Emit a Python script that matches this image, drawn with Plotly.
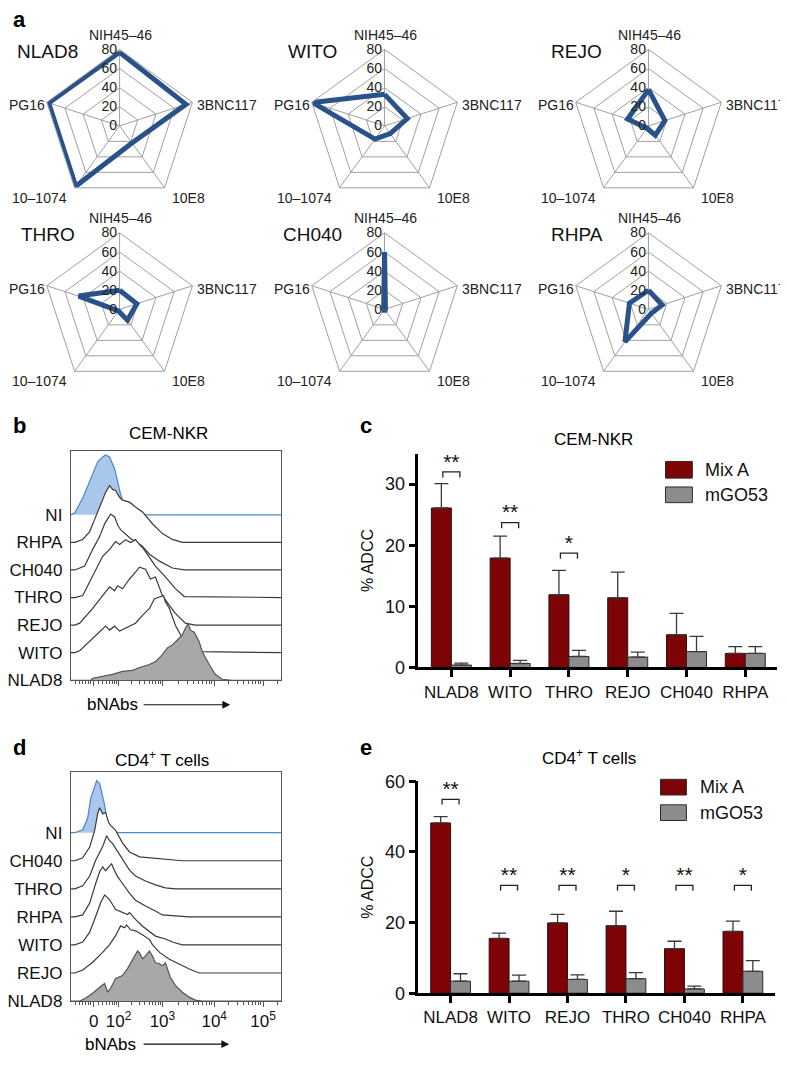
import math
import plotly.graph_objects as go

# The page body adds an 8px margin, so the figure is sized/offset to compensate.
OFF = 8
FW, FH = 780, 1057
FONT = "Liberation Sans, Arial, sans-serif"


def SX(X):
    return (X - OFF) / FW


def SY(Y):
    return 1 - (Y - OFF) / FH


# ---------------- Panel a: radar data ----------------
radar_axes = ["NIH45–46", "3BNC117", "10E8", "10–1074", "PG16"]
radar_ticks = [0, 20, 40, 60, 80]
radar_samples = ["NLAD8", "WITO", "REJO", "THRO", "CH040", "RHPA"]
radar_nlad8 = [77, 73, 22, 78, 78]
radar_wito = [33, 25, 10, 17, 79]
radar_rejo = [38, 18, 12, 3, 23]
radar_thro = [20, 19, 14, 2, 45]
radar_ch040 = [60, 1, 1, 1, 1]
radar_rhpa = [20, 15, 5, 42, 21]

# ---------------- Panel b: CEM-NKR histograms (channel, height) ----------------
b_names = ["NLAD8", "WITO", "REJO", "THRO", "CH040", "RHPA", "NI"]  # bottom to top
b_ni_x = [0, 4, 12, 20, 27, 32, 35, 39, 44, 47, 50, 54, 59, 64, 211]
b_ni_h = [0, 2, 17, 37, 54, 59, 61, 59, 47, 34, 21, 9, 2, 0, 0]
b_rhpa_x = [0, 4, 12, 19, 25, 30, 35, 39, 42, 45, 49, 52, 59, 65, 72, 82, 92, 102, 112, 211]
b_rhpa_h = [0, 0, 3, 11, 26, 39, 51, 58, 54, 53, 46, 43, 41, 36, 31, 19, 9, 3, 0, 0]
b_ch040_x = [0, 4, 14, 22, 29, 34, 37, 40, 44, 47, 50, 55, 60, 65, 72, 79, 89, 102, 114, 211]
b_ch040_h = [0, 0, 4, 21, 34, 47, 52, 57, 54, 46, 41, 36, 32, 29, 24, 16, 9, 2, 0, 0]
b_thro_x = [0, 4, 12, 22, 32, 39, 45, 49, 55, 60, 65, 69, 72, 79, 85, 95, 105, 114, 211]
b_thro_h = [0, 0, 2, 22, 42, 49, 57, 54, 59, 56, 59, 54, 51, 41, 32, 21, 9, 1, 0]
b_rejo_x = [0, 4, 9, 22, 32, 39, 44, 47, 52, 59, 65, 69, 75, 80, 85, 92, 99, 105, 115, 125, 211]
b_rejo_h = [0, 0, 2, 17, 30, 39, 35, 40, 37, 47, 54, 59, 57, 47, 49, 30, 20, 12, 2, 0, 0]
b_wito_x = [0, 4, 9, 19, 29, 35, 39, 44, 49, 55, 65, 72, 79, 84, 89, 93, 95, 99, 105, 112, 119, 129, 211]
b_wito_h = [0, 0, 2, 12, 22, 27, 23, 27, 22, 25, 30, 38, 45, 55, 57, 58, 52, 45, 28, 15, 5, 1, 0]
b_nlad8_x = [0, 20, 22, 32, 42, 52, 62, 69, 79, 85, 92, 97, 102, 109, 112, 115, 118, 120, 124, 129, 132, 139, 145, 152, 162, 211]
b_nlad8_h = [0, 0, 2, 4, 6, 9, 10, 13, 16, 19, 26, 33, 36, 43, 46, 53, 58, 51, 49, 39, 29, 16, 6, 1, 0, 0]

# ---------------- Panel d: CD4+ T cell histograms ----------------
d_names = ["NLAD8", "REJO", "WITO", "RHPA", "THRO", "CH040", "NI"]  # bottom to top
d_ni_x = [0, 4, 12, 17, 20, 24, 26, 29, 31, 34, 36, 39, 42, 47, 211]
d_ni_h = [0, 0, 3, 15, 35, 48, 53, 50, 42, 28, 15, 5, 1, 0, 0]
d_ch040_x = [0, 4, 12, 19, 24, 27, 29, 32, 35, 38, 40, 45, 52, 59, 69, 79, 92, 105, 112, 211]
d_ch040_h = [0, 0, 3, 14, 31, 48, 54, 48, 49, 39, 36, 31, 18, 9, 4, 3, 2, 1, 0, 0]
d_thro_x = [0, 4, 12, 19, 25, 32, 36, 39, 42, 47, 52, 59, 65, 75, 85, 95, 105, 211]
d_thro_h = [0, 0, 3, 13, 29, 43, 54, 49, 46, 38, 29, 19, 13, 8, 4, 1, 0, 0]
d_rhpa_x = [0, 4, 12, 19, 25, 29, 32, 35, 39, 41, 44, 47, 52, 59, 65, 75, 85, 92, 105, 119, 211]
d_rhpa_h = [0, 0, 2, 14, 34, 46, 51, 47, 52, 54, 47, 41, 34, 24, 17, 11, 6, 2, 1, 0, 0]
d_wito_x = [0, 4, 12, 19, 25, 30, 34, 39, 45, 52, 57, 59, 65, 72, 79, 85, 95, 102, 112, 211]
d_wito_h = [0, 0, 3, 13, 29, 43, 51, 46, 36, 33, 31, 33, 26, 19, 14, 9, 6, 3, 0, 0]
d_rejo_x = [0, 4, 12, 22, 32, 39, 45, 50, 54, 56, 60, 65, 72, 79, 82, 89, 99, 109, 119, 129, 211]
d_rejo_h = [0, 0, 3, 11, 21, 29, 38, 48, 46, 49, 44, 43, 39, 34, 29, 21, 14, 9, 4, 0, 0]
d_nlad8_x = [0, 9, 15, 22, 29, 34, 37, 40, 45, 52, 57, 60, 64, 67, 69, 72, 75, 79, 82, 85, 89, 92, 95, 97, 100, 105, 112, 119, 125, 132, 211]
d_nlad8_h = [0, 0, 3, 8, 14, 18, 9, 13, 23, 26, 33, 38, 46, 51, 49, 43, 46, 51, 46, 39, 38, 36, 39, 33, 24, 16, 9, 4, 1, 0, 0]

flow_major_vals = [23, 48, 92, 144, 193]
flow_major_text = ["0", "10<sup>2</sup>", "10<sup>3</sup>", "10<sup>4</sup>", "10<sup>5</sup>"]
flow_low_minor = [5, 9, 12, 15, 18, 20, 28, 32, 36, 39, 42, 44, 46]

# ---------------- Panels c / e: ADCC bars ----------------
series_names = ["Mix A", "mGO53"]
c_cats = ["NLAD8", "WITO", "THRO", "REJO", "CH040", "RHPA"]
c_mixA = [26.1, 17.9, 11.9, 11.4, 5.35, 2.3]
c_mixA_err = [4.0, 3.6, 4.0, 4.2, 3.5, 1.1]
c_mgo53 = [0.4, 0.65, 1.8, 1.7, 2.6, 2.3]
c_mgo53_err = [0.3, 0.5, 1.0, 0.8, 2.5, 1.1]
c_sig = ["**", "**", "*", "", "", ""]
c_sig_y = [32.0, 23.7, 18.7, None, None, None]

e_cats = ["NLAD8", "WITO", "REJO", "THRO", "CH040", "RHPA"]
e_mixA = [48.2, 15.5, 19.9, 19.1, 12.6, 17.5]
e_mixA_err = [1.8, 1.5, 2.4, 4.1, 2.1, 2.9]
e_mgo53 = [3.4, 3.4, 3.9, 4.1, 1.2, 6.2]
e_mgo53_err = [2.1, 1.7, 1.3, 1.7, 0.8, 3.0]
e_sig = ["**", "**", "**", "*", "**", "*"]
e_sig_y = [54.9, 30.5, 30.5, 30.5, 30.5, 30.5]

# ---------------- styles ----------------
RADAR_LINE = "#2a528a"
GRID = "#a0a0a0"
MAROON = "#7d0306"
GRAYBAR = "#8c8c8c"
HIST_LINE = "#3a3a3a"
NI_LINE = "#4b87c8"
NI_FILL = "#a9c7ea"

fig = go.Figure()


def txt(x, y, s, size=17, bold=False, xanchor="center", color="#000"):
    fig.add_annotation(x=SX(x), y=SY(y), xref="paper", yref="paper",
                       text=(f"<b>{s}</b>" if bold else s),
                       showarrow=False, xanchor=xanchor, yanchor="middle",
                       font=dict(size=size, color=color, family=FONT))


# ---------- radar charts ----------
radar_sets = [radar_nlad8, radar_wito, radar_rejo, radar_thro, radar_ch040, radar_rhpa]
radar_centers = [(117, 122), (383, 122), (648, 122), (117, 309), (383, 309), (648, 309)]
RD = 78  # half-size of polar domain (px)
# label placement around each pentagon: (dx, dy, anchor)
radar_label_pos = [(1, -97, "center"), (76, -25, "left"), (51, 69, "left"),
                   (-51, 69, "right"), (-73, -25, "right")]
for k, vals in enumerate(radar_sets):
    pname = "polar" if k == 0 else f"polar{k+1}"
    fig.add_trace(go.Scatterpolar(
        r=vals + [vals[0]], theta=radar_axes + [radar_axes[0]], mode="lines",
        line=dict(color=RADAR_LINE, width=5), subplot=pname, showlegend=False))
    cx, cy = radar_centers[k]
    cyd = cy - 4
    fig.update_layout(**{pname: dict(
        domain=dict(x=[SX(cx - RD), SX(cx + RD)], y=[SY(cyd + RD), SY(cyd - RD)]),
        gridshape="linear", bgcolor="white",
        angularaxis=dict(rotation=90, direction="clockwise", categoryorder="array",
                         categoryarray=radar_axes, showline=True, linecolor=GRID, linewidth=1,
                         gridcolor=GRID, gridwidth=1, ticks="", showticklabels=False),
        radialaxis=dict(range=[0, 80], tickvals=radar_ticks, angle=90, tickangle=90,
                        side="counterclockwise", showline=False, gridcolor=GRID, gridwidth=1,
                        ticks="", tickfont=dict(size=14, color="#222", family=FONT)),
    )})
    for name, (dx, dy, anc) in zip(radar_axes, radar_label_pos):
        txt(cx + dx, cy + dy, name, size=14, xanchor=anc, color="#222")
    txt(cx - 72, cy - 80, radar_samples[k], size=19, color="#111")


# ---------- histograms ----------
def add_hist(names, xs_list, hs_list, xa, ya, spacing):
    offsets = [i * spacing for i in range(len(names))]
    for i in reversed(range(len(names))):
        name = names[i]
        xs, hs = xs_list[i], hs_list[i]
        ys = [offsets[i] + h for h in hs]
        if name == "NI":
            lc, fc = NI_LINE, NI_FILL
        elif i == 0:
            lc, fc = "#555555", "#a8a8a8"
        else:
            lc, fc = HIST_LINE, "white"
        fig.add_trace(go.Scatter(x=xs, y=ys, mode="lines", fill="toself", fillcolor=fc,
                                 line=dict(color=lc, width=1.2), xaxis=xa, yaxis=ya,
                                 showlegend=False, hoverinfo="skip"))
    return offsets


b_xs = [b_nlad8_x, b_wito_x, b_rejo_x, b_thro_x, b_ch040_x, b_rhpa_x, b_ni_x]
b_hs = [b_nlad8_h, b_wito_h, b_rejo_h, b_thro_h, b_ch040_h, b_rhpa_h, b_ni_h]
b_off = add_hist(b_names, b_xs, b_hs, "x", "y", 28.1)

d_xs = [d_nlad8_x, d_rejo_x, d_wito_x, d_rhpa_x, d_thro_x, d_ch040_x, d_ni_x]
d_hs = [d_nlad8_h, d_rejo_h, d_wito_h, d_rhpa_h, d_thro_h, d_ch040_h, d_ni_h]
d_off = add_hist(d_names, d_xs, d_hs, "x3", "y3", 28.6)

flow_minor = list(flow_low_minor)
for a, b in zip(flow_major_vals[1:-1], flow_major_vals[2:]):
    for m in range(2, 10):
        flow_minor.append(a + math.log10(m) * (b - a))
for m in range(2, 4):
    flow_minor.append(193 + math.log10(m) * 49)


def flow_xaxis(dom, anchor, labels):
    return dict(domain=dom, range=[0, 211], anchor=anchor, showline=True, mirror=True,
                linecolor="#555", linewidth=1, ticks="outside", ticklen=5, tickcolor="#555",
                tickvals=flow_major_vals, ticktext=flow_major_text, showticklabels=labels,
                tickfont=dict(size=17, color="#111", family=FONT),
                minor=dict(tickmode="array", tickvals=flow_minor, ticks="outside", ticklen=3,
                           tickcolor="#555"),
                showgrid=False, zeroline=False, fixedrange=True)


def flow_yaxis(dom, anchor, offs, names, top):
    return dict(domain=dom, range=[0, top], anchor=anchor, showline=True, mirror=True,
                linecolor="#555", linewidth=1, ticks="", tickvals=offs, ticktext=names,
                tickfont=dict(size=17, color="#111", family=FONT), ticklabelstandoff=4,
                showgrid=False, zeroline=False)


fig.update_layout(
    xaxis=flow_xaxis([SX(68), SX(279)], "y", False),
    yaxis=flow_yaxis([SY(683), SY(449)], "x", b_off, b_names, 234),
    xaxis3=flow_xaxis([SX(68), SX(279)], "y3", True),
    yaxis3=flow_yaxis([SY(1010), SY(777)], "x3", d_off, d_names, 233),
)


# ---------- bar charts ----------
def add_bars(cats, mix, mix_err, mgo, mgo_err, sig, sig_y, xa, ya, tick_len, star_gap):
    idx = list(range(len(cats)))
    fig.add_trace(go.Bar(x=idx, y=mix, name=series_names[0], xaxis=xa, yaxis=ya, showlegend=False,
                         marker=dict(color=MAROON, line=dict(color="#2b1010", width=1)),
                         error_y=dict(type="data", array=mix_err, arrayminus=[0] * len(mix),
                                      symmetric=False, color="#3a3a3a", thickness=1.3, width=7)))
    fig.add_trace(go.Bar(x=idx, y=mgo, name=series_names[1], xaxis=xa, yaxis=ya, showlegend=False,
                         marker=dict(color=GRAYBAR, line=dict(color="#2b2b2b", width=1)),
                         error_y=dict(type="data", array=mgo_err, arrayminus=[0] * len(mgo),
                                      symmetric=False, color="#3a3a3a", thickness=1.3, width=7)))
    half = 0.145
    for i, (s, yb) in enumerate(zip(sig, sig_y)):
        if not s:
            continue
        fig.add_trace(go.Scatter(x=[i - half, i - half, i + half, i + half],
                                 y=[yb - tick_len, yb, yb, yb - tick_len], mode="lines",
                                 line=dict(color="#222", width=1.3), xaxis=xa, yaxis=ya,
                                 showlegend=False, hoverinfo="skip"))
        fig.add_trace(go.Scatter(x=[i], y=[yb + star_gap], mode="text", text=[s],
                                 textfont=dict(size=21, color="#111", family=FONT),
                                 textposition="middle center", xaxis=xa, yaxis=ya,
                                 showlegend=False, hoverinfo="skip"))


add_bars(c_cats, c_mixA, c_mixA_err, c_mgo53, c_mgo53_err, c_sig, c_sig_y, "x2", "y2", 0.9, 1.4)
add_bars(e_cats, e_mixA, e_mixA_err, e_mgo53, e_mgo53_err, e_sig, e_sig_y, "x4", "y4", 1.5, 2.4)


def bar_xaxis(dom, anchor, cats, rng):
    return dict(domain=dom, range=rng, anchor=anchor, showline=True, linecolor="black",
                linewidth=2.5, ticks="outside", ticklen=7, tickwidth=2.5, tickcolor="black",
                tickvals=list(range(len(cats))), ticktext=cats,
                tickfont=dict(size=17, color="#111", family=FONT),
                showgrid=False, zeroline=False)


def bar_yaxis(dom, anchor, rng, tv):
    return dict(domain=dom, range=rng, anchor=anchor, showline=True, linecolor="black",
                linewidth=2.5, ticks="outside", ticklen=7, tickwidth=2.5, tickcolor="black",
                tickvals=tv, tickfont=dict(size=18, color="#111", family=FONT),
                title=dict(text="% ADCC", font=dict(size=16, color="#111", family=FONT), standoff=8),
                showgrid=False, zeroline=False)


fig.update_layout(
    xaxis2=bar_xaxis([SX(417), SX(777)], "y2", c_cats, [-0.56, 5.54]),
    yaxis2=bar_yaxis([SY(670), SY(452)], "x2", [0, 35], [0, 10, 20, 30]),
    xaxis4=bar_xaxis([SX(417), SX(775)], "y4", e_cats, [-0.55, 5.55]),
    yaxis4=bar_yaxis([SY(1002), SY(786)], "x4", [0, 60], [0, 20, 40, 60]),
    barmode="group", bargap=0.32, bargroupgap=0.0,
)

# legends (swatch + label), one per bar panel
legend_specs = [  # (swatch x0, x1, [(y0, y1) per series], text x)
    (665, 692, [(460, 477), (486, 502)], 703),
    (660, 686, [(784, 800), (810, 826)], 698),
]
for (sx0, sx1, rows, tx) in legend_specs:
    for (y0, y1), nm, col in zip(rows, series_names, [MAROON, GRAYBAR]):
        fig.add_shape(type="rect", xref="paper", yref="paper", x0=SX(sx0), x1=SX(sx1),
                      y0=SY(y1), y1=SY(y0), fillcolor=col, line=dict(color="#2b2b2b", width=1))
        txt(tx, (y0 + y1) / 2, nm, size=18, xanchor="left", color="#111")

# ---------- text: panel letters, titles, axis labels ----------
for letter, (lx, ly) in zip("abcde", [(8, 10), (8, 423), (356, 423), (8, 752), (356, 752)]):
    txt(lx, ly, letter, size=22, bold=True, xanchor="left")

txt(166, 432, "CEM-NKR")
txt(593, 438, "CEM-NKR")
txt(160, 763, "CD4<sup>+</sup> T cells")
txt(588, 761, "CD4<sup>+</sup> T cells")

for (tx, ty, ax0, ax1) in [(110, 708, 140, 228), (108, 1054, 140, 227)]:
    txt(tx, ty, "bNAbs")
    fig.add_annotation(x=SX(ax1), y=SY(ty), xref="paper", yref="paper", ax=ax0 - ax1, ay=0,
                       axref="pixel", ayref="pixel", text="", showarrow=True, arrowhead=2,
                       arrowsize=1.3, arrowwidth=1.2, arrowcolor="#111")

fig.update_layout(width=FW, height=FH, margin=dict(l=0, r=0, t=0, b=0),
                  paper_bgcolor="white", plot_bgcolor="white",
                  font=dict(family=FONT, color="#111"))

fig.write_html("out.html")
